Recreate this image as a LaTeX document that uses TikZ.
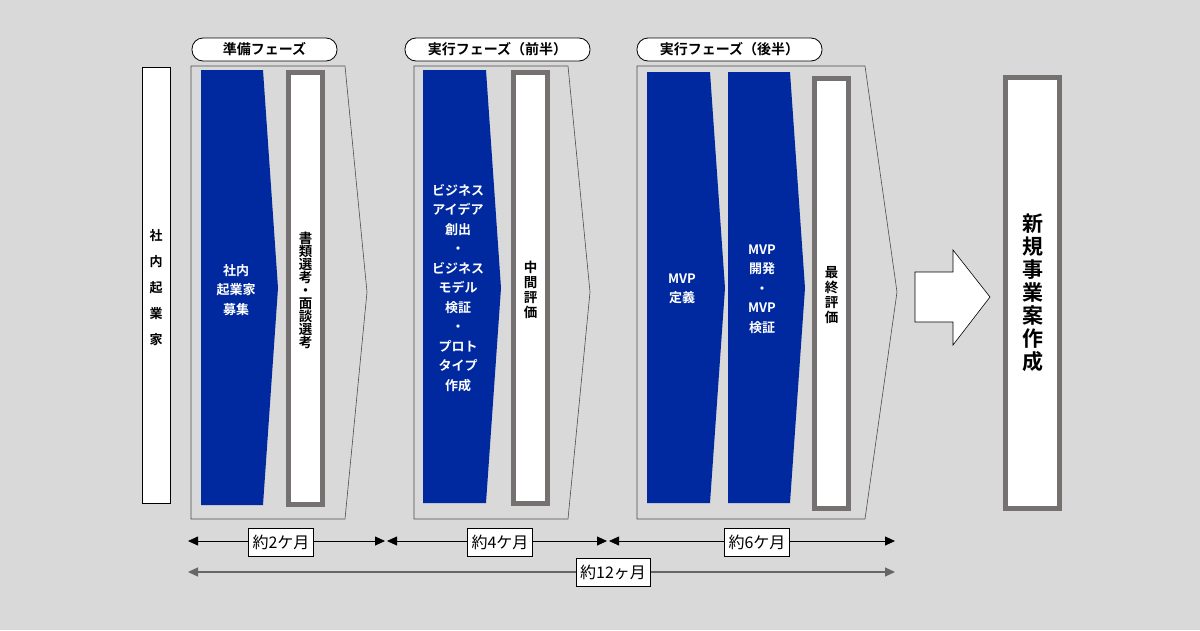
\documentclass[tikz,border=0pt]{standalone}
\usepackage{fontspec}
\setmainfont{Noto Sans CJK JP}
\newfontfamily\jpb{Noto Sans CJK JP Bold}
\usetikzlibrary{arrows.meta}
\definecolor{bg}{RGB}{217,217,217}
\definecolor{blu}{RGB}{0,41,160}
\definecolor{gbord}{RGB}{118,113,113}
\begin{document}
\begin{tikzpicture}[x=1pt,y=-1pt,
  pill/.style={draw,line width=0.8pt,rounded corners=11pt,fill=white,minimum height=23pt,font=\jpb\fontsize{14}{15}\selectfont,inner sep=0pt},
  chev/.style={draw=black!70,line width=0.6pt},
  blue/.style={fill=blu},
  gbox/.style={draw=gbord,line width=5pt,fill=white},
  wt/.style={text=white,font=\jpb\fontsize{13}{19.5}\selectfont,align=center},
  vt/.style={font=\jpb\fontsize{13.5}{15}\selectfont,align=center},
  dim/.style={{Triangle[length=10pt,width=9pt]}-{Triangle[length=10pt,width=9pt]},line width=0.8pt},
  lab/.style={draw,fill=white,font=\fontsize{16}{17}\selectfont,minimum height=28pt,inner xsep=4pt}]
\fill[bg] (0,0) rectangle (1200,630);
\useasboundingbox (0,0) rectangle (1200,630);
% left box
\draw[fill=white] (142,67) rectangle (170,503);
\node[font=\jpb\fontsize{13}{26}\selectfont,align=center] (lb) at (156,288) {社\\内\\起\\業\\家};
% phase outlines
\draw[chev] (191,66) -- (345,66) -- (367,292) -- (345,519) -- (191,519) -- cycle;
\draw[chev] (414,66) -- (568,66) -- (590,292) -- (568,519) -- (414,519) -- cycle;
\draw[chev] (637,66) -- (865,66) -- (897,292) -- (865,519) -- (637,519) -- cycle;
\node[pill,minimum width=145pt] (p1) at (264.5,49.5) {準備フェーズ};
\node[pill,minimum width=185pt] (p2) at (497.5,49.5) {実行フェーズ（前半）};
\node[pill,minimum width=185pt] (p3) at (729.5,49.5) {実行フェーズ（後半）};
% blue shapes
\fill[blue] (201,70) -- (263,70) -- (278,288) -- (263,505) -- (201,505) -- cycle;
\fill[blue] (423,70) -- (486,70) -- (501,288) -- (486,503) -- (423,503) -- cycle;
\fill[blue] (647,72) -- (710,72) -- (725,288) -- (710,503) -- (647,503) -- cycle;
\fill[blue] (728,72) -- (790,72) -- (805,288) -- (790,503) -- (728,503) -- cycle;
\node[wt] (b1) at (236,290) {社内\\起業家\\募集};
\node[wt] (b2) at (458,288) {ビジネス\\アイデア\\創出\\・\\ビジネス\\モデル\\検証\\・\\プロト\\タイプ\\作成};
\node[wt] (b3) at (682,289) {MVP\\定義};
\node[wt] (b4) at (762,289) {MVP\\開発\\・\\MVP\\検証};
% gray boxes
\draw[gbox] (288.5,72.5) rectangle (322.5,504.5);
\draw[gbox] (513.5,72.5) rectangle (547.5,503.5);
\draw[gbox] (814.5,78.5) rectangle (848.5,508.5);
\node[vt,font=\jpb\fontsize{13.5}{13}\selectfont] (g1) at (305.5,290) {書\\類\\選\\考\\・\\面\\談\\選\\考};
\node[vt] (g2) at (530.5,290) {中\\間\\評\\価};
\node[vt] (g3) at (831.5,295) {最\\終\\評\\価};
% big arrow
\draw[fill=white,line width=0.6pt] (915,272) -- (953,272) -- (953,250) -- (990,297) -- (953,345) -- (953,322) -- (915,322) -- cycle;
% final box
\draw[gbox] (1005.5,77.5) rectangle (1059.5,508.5);
\node[font=\jpb\fontsize{21}{23}\selectfont,align=center] (fin) at (1032.5,293) {新\\規\\事\\業\\案\\作\\成};
% dimensions
\coordinate (d0) at (188,541); \coordinate (d1) at (385,541);
\coordinate (d2) at (387,541); \coordinate (d3) at (607,541);
\coordinate (d4) at (609,541); \coordinate (d5) at (895,541);
\coordinate (e0) at (188,572); \coordinate (e1) at (895,572);
\draw[dim] (d0) -- (d1);
\draw[dim] (d2) -- (d3);
\draw[dim] (d4) -- (d5);
\draw[dim,draw=black!60,line width=1.2pt] (e0) -- (e1);
\node[lab] (l1) at (281,542) {約2ケ月};
\node[lab] (l2) at (500,542) {約4ケ月};
\node[lab] (l3) at (757,542) {約6ケ月};
\node[lab] (l4) at (613,572) {約12ヶ月};
\end{tikzpicture}
\end{document}
